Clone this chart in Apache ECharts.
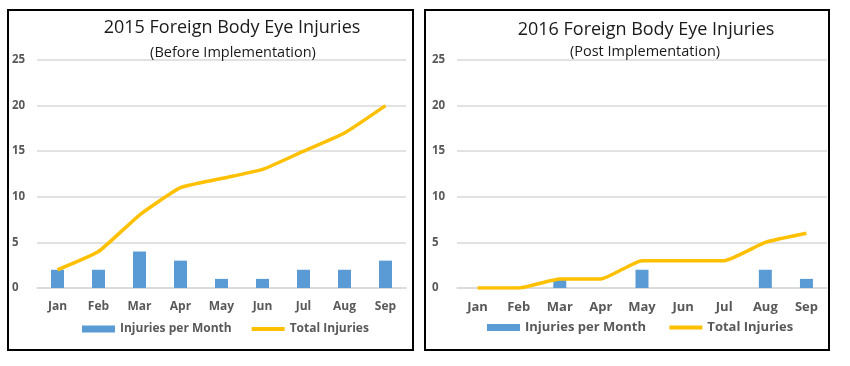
<!DOCTYPE html>
<html><head><meta charset="utf-8">
<script src="https://cdn.jsdelivr.net/npm/echarts@6/dist/echarts.min.js"></script>
<style>html,body{margin:0;padding:0;background:#fff}#c{width:850px;height:366px}</style>
</head><body><div id="c"></div>
<script>
const months = ['Jan','Feb','Mar','Apr','May','Jun','Jul','Aug','Sep'];
const yTicks = [0,5,10,15,20,25];
const perMonth2015 = [2,2,4,3,1,1,2,2,3];
const total2015 = [2,4,8,11,12,13,15,17,20];
const perMonth2016 = [0,0,1,0,2,0,0,2,1];
const total2016 = [0,0,1,1,3,3,3,5,6];

const gray = '#595959';
const lineIcon = 'path://M0,0 L35,0 L35,4 L0,4 Z';
const grids = [
  {left:37, top:60, width:369, height:228},
  {left:457, top:60, width:370, height:228}
];
function xAx(i, fs){return {type:'category', gridIndex:i, data:months,
  axisLine:{lineStyle:{color:'#d9d9d9', width:1.5}}, axisTick:{show:false},
  axisLabel:{color:gray, fontFamily:'Open Sans', fontWeight:'bold', fontSize:fs, margin:13}};}
function yAx(i){return {type:'value', gridIndex:i, min:yTicks[0], max:yTicks[yTicks.length-1], interval:5,
  axisLine:{show:false}, axisTick:{show:false},
  splitLine:{lineStyle:{color:'#d9d9d9', width:1.5}},
  axisLabel:{color:gray, fontFamily:'Open Sans', fontWeight:'bold', fontSize:11.5, align:'left', margin:25}};}

const chart = echarts.init(document.getElementById('c'), null, {renderer:'canvas'});
chart.setOption({
  animation:false,
  graphic:[
    {type:'rect', shape:{x:8, y:10, width:405, height:340}, style:{fill:'none', stroke:'#000', lineWidth:2}, z:-1},
    {type:'rect', shape:{x:425, y:10, width:404, height:340}, style:{fill:'none', stroke:'#000', lineWidth:2}, z:-1}
  ],
  title:[
    {text:'2015 Foreign Body Eye Injuries', left:227, top:14, textAlign:'center',
     textStyle:{fontFamily:'Open Sans', fontSize:18, fontWeight:500, color:'#1a1a1a'}},
    {text:'(Before Implementation)', left:228, top:40, textAlign:'center',
     textStyle:{fontFamily:'Open Sans', fontSize:14.5, fontWeight:500, color:'#1a1a1a'}},
    {text:'2016 Foreign Body Eye Injuries', left:641, top:16, textAlign:'center',
     textStyle:{fontFamily:'Open Sans', fontSize:18, fontWeight:500, color:'#1a1a1a'}},
    {text:'(Post Implementation)', left:640, top:39, textAlign:'center',
     textStyle:{fontFamily:'Open Sans', fontSize:14.5, fontWeight:500, color:'#1a1a1a'}}
  ],
  legend:[
    {left:77, top:318, itemWidth:33, itemHeight:7, itemGap:20, selectedMode:false,
     data:[{name:'Injuries per Month', icon:'rect'}, {name:'Total Injuries', icon:lineIcon}],
     textStyle:{color:gray, fontFamily:'Open Sans', fontSize:12, fontWeight:'bold'}},
    {left:482, top:316, itemWidth:33, itemHeight:7, itemGap:20, selectedMode:false,
     data:[{name:'Injuries per Month ', icon:'rect'}, {name:'Total Injuries ', icon:lineIcon}],
     textStyle:{color:gray, fontFamily:'Open Sans', fontSize:13, fontWeight:'bold'}}
  ],
  grid:grids,
  xAxis:[xAx(0,12), xAx(1,13)],
  yAxis:[yAx(0), yAx(1)],
  series:[
    {name:'Injuries per Month', type:'bar', xAxisIndex:0, yAxisIndex:0, data:perMonth2015, barWidth:13, itemStyle:{color:'#5B9BD5'}},
    {name:'Total Injuries', type:'line', xAxisIndex:0, yAxisIndex:0, data:total2015, showSymbol:false, symbol:'none', smooth:0.15, lineStyle:{color:'#FFC000', width:3.5}, itemStyle:{color:'#FFC000'}},
    {name:'Injuries per Month ', type:'bar', xAxisIndex:1, yAxisIndex:1, data:perMonth2016, barWidth:13, itemStyle:{color:'#5B9BD5'}},
    {name:'Total Injuries ', type:'line', xAxisIndex:1, yAxisIndex:1, data:total2016, showSymbol:false, symbol:'none', smooth:0.15, lineStyle:{color:'#FFC000', width:3.5}, itemStyle:{color:'#FFC000'}}
  ]
});
</script></body></html>
